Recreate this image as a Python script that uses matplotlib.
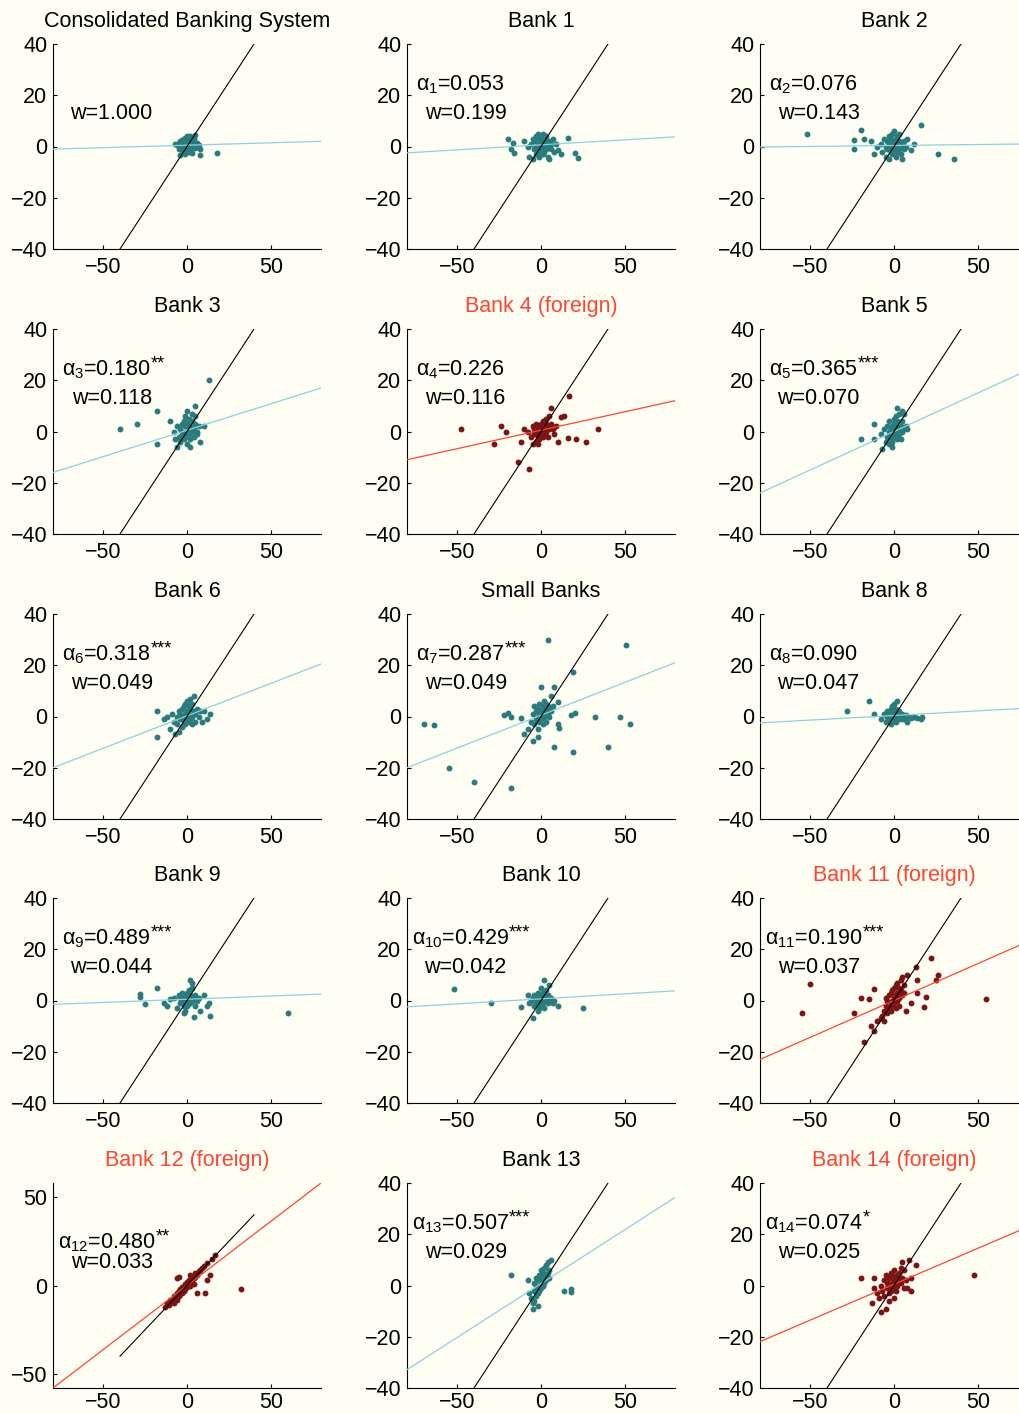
import matplotlib
matplotlib.use('Agg')
import matplotlib.pyplot as plt
import numpy as np

plt.rcParams['font.family'] = ['Liberation Sans', 'DejaVu Sans']
plt.rcParams['mathtext.fontset'] = 'custom'
plt.rcParams['mathtext.rm'] = 'Liberation Sans'
plt.rcParams['mathtext.it'] = 'Liberation Sans'
plt.rcParams['axes.unicode_minus'] = True

# panel titles / estimates
titles = ['Consolidated Banking System', 'Bank 1', 'Bank 2',
          'Bank 3', 'Bank 4 (foreign)', 'Bank 5',
          'Bank 6', 'Small Banks', 'Bank 8',
          'Bank 9', 'Bank 10', 'Bank 11 (foreign)',
          'Bank 12 (foreign)', 'Bank 13', 'Bank 14 (foreign)']
alpha_idx = [None, 1, 2, 3, 4, 5, 6, 7, 8, 9, 10, 11, 12, 13, 14]
alpha_vals = [None, '0.053', '0.076', '0.180', '0.226', '0.365', '0.318', '0.287',
              '0.090', '0.489', '0.429', '0.190', '0.480', '0.507', '0.074']
stars = ['', '', '', '**', '', '***', '***', '***', '', '***', '***', '***', '**', '***', '*']
weights = ['1.000', '0.199', '0.143', '0.118', '0.116', '0.070', '0.049', '0.049',
           '0.047', '0.044', '0.042', '0.037', '0.033', '0.029', '0.025']
foreign = [False, False, False, False, True, False, False, False,
           False, False, False, True, True, False, True]

# fitted line (slope, intercept)
fit_slope = [0.019, 0.039, 0.0075, 0.206, 0.144, 0.30, 0.253, 0.256,
             0.036, 0.025, 0.039, 0.2875, 0.725, 0.42, 0.28]
fit_icpt = [0.5, 0.65, 0.4, 0.5, 0.5, 0.0, 0.25, 0.5,
            0.4, 0.5, 0.65, 0.0, 0.0, 0.75, 0.5]

# scatter points (x, y) per panel
pts_cons = [(-7, 1), (-6, 0.5), (-5, 1.5), (-5, -1), (-4, 0), (-4, 2), (-3, -1.5), (-3, 1), (-3, 2.5), (-2, -2),
            (-2, 0), (-2, 3), (-1, -3), (-1, 1), (-1, 3.5), (0, -1), (0, 0.5), (0, 2), (0, 4), (1, -2),
            (1, 0), (1, 3), (2, 1), (2, -1), (2, 4), (3, 0), (3, 2), (3, -2.5), (4, 1), (4, 3),
            (5, -0.5), (5, 4.5), (6, 1.5), (7, 0.5), (8, -1), (8, -3.5), (-4, -3.5), (18, -2.5), (2, -0.5), (-1, -2.5)]
pts_b1 = [(-20, 3), (-18, -1), (-16, -2.5), (-17, 1.5), (-10, 2), (-8, 0), (-7, -4), (-6, 1), (-5, -5), (-5, 3),
          (-4, -1), (-4, 2), (-3, -3), (-3, 0), (-3, 4), (-2, -2), (-2, 1), (-2, 5), (-1, -4), (-1, 0),
          (-1, 3), (0, -1), (0, 1), (0, 2), (0, 4), (1, -3), (1, 0), (1, 5), (2, -2), (2, 2),
          (2, 3), (3, -1), (3, 1), (3, 4), (4, 0), (4, -4), (5, 2), (5, -5), (6, -1), (6, 1),
          (7, 3), (8, -2), (10, -1.5), (12, -3), (16, 3.5), (20, -2.5), (22, -4.5), (9, 1)]
pts_b2 = [(-52, 5), (-24, 2.5), (-24, -1), (-20, 6.5), (-18, 3), (-14, 2), (-12, -3), (-10, 0), (-8, 1), (-7, -2),
          (-6, 3), (-5, -4), (-5, 0), (-4, 2), (-4, -1), (-3, -5), (-3, 1), (-3, 4), (-2, -2), (-2, 0),
          (-2, 3), (-1, -3), (-1, 1), (-1, 5), (0, -1), (0, 0), (0, 2), (0, 6), (1, -4), (1, 1),
          (1, 3), (2, -2), (2, 0), (2, 4), (3, -1), (3, 2), (3, 5), (4, 0), (4, -3), (5, 1),
          (5, -5), (6, 2), (6, -1), (7, 0), (8, 3), (10, -1.5), (16, 8.5), (26, -3), (36, -5), (12, 1)]
pts_b3 = [(-40, 1), (-30, 3), (-18, 8), (-18, -5), (-10, 4), (-8, 0), (-6, -6), (-6, 2), (-5, -2), (-4, 1),
          (-4, -4), (-3, 3), (-3, -1), (-2, 0), (-2, -3), (-2, 4), (-1, 2), (-1, -2), (-1, 6), (0, 0),
          (0, -5), (0, 3), (1, 1), (1, -1), (1, 5), (2, -6), (2, 2), (2, -3), (3, 0), (3, 4),
          (3, 7), (4, 1), (4, -2), (5, 6), (5, 3), (6, 0), (6, -1), (7, 2), (8, -4), (10, 2),
          (5, 10), (13, 20), (-7, -3), (0, 8)]
pts_b4 = [(-48, 1), (-28, -5), (-24, 2), (-21, 0), (-14, -12), (-12, -4), (-10, 1), (-8, 0), (-7, -14.5), (-6, -2),
          (-5, 2), (-5, -5), (-4, -1), (-4, 1), (-3, -4), (-3, 0), (-3, 3), (-2, -2), (-2, 1), (-2, -5),
          (-1, 0), (-1, 2), (-1, -3), (0, -1), (0, 1), (0, 3), (1, 0), (1, -2), (1, 4), (2, 1),
          (2, 2), (2, -1), (3, 3), (3, 0), (3, 5), (4, 2), (4, -2), (5, 6), (5, 1), (6, 3),
          (6, 9), (7, 1), (8, -1), (9, 2), (10, -4), (12, 5.5), (14, 6), (16, -2.5), (17, 14), (21, -3),
          (27, -4), (34, 1)]
pts_b5 = [(-20, -3), (-12, -3), (-12, 3), (-8, -1), (-7, -7), (-6, 1), (-5, -4), (-4, -2), (-4, 2), (-3, 0),
          (-3, -5), (-3, 4), (-2, -1), (-2, 1), (-2, -3), (-1, 2), (-1, 0), (-1, -4), (0, 1), (0, -2),
          (0, 5), (0, 3), (1, -1), (1, 2), (1, 6), (2, 0), (2, -3), (2, 4), (3, 1), (3, 7),
          (3, -1), (4, 2), (4, -3), (5, 0), (5, 4), (6, 7), (6, 1), (7, 2), (8, 1), (5, 8),
          (-1, -6), (2, 9)]
pts_b6 = [(-18, 2), (-18, -8), (-14, -1), (-12, 0), (-10, -5), (-9, 1), (-8, -2), (-7, -7), (-6, 0), (-6, -3),
          (-5, -6), (-5, 2), (-4, -1), (-4, 1), (-3, -4), (-3, 3), (-2, 0), (-2, -2), (-2, 4), (-1, 1),
          (-1, -3), (-1, 5), (0, 0), (0, 2), (0, -1), (0, 6), (1, 1), (1, -2), (1, 4), (2, 3),
          (2, -1), (2, 7), (3, 0), (3, 5), (3, -3), (4, 2), (4, 8), (5, 1), (5, -2), (6, 3),
          (7, 0), (8, 2), (10, 2), (12, -1), (14, 1), (9, -2)]
pts_small = [(-70, -3), (-64, -3.5), (-55, -20), (-40, -25.5), (-22, 0.5), (-20, 1.5), (-18, 0), (-18, -28), (-12, -0.5), (-10, -7),
             (-8, -5), (-6, -2), (-5, -9.5), (-5, 1), (-4, 4), (-4, -3), (-3, -1), (-3, 2), (-2, -8), (-2, -5),
             (-2, 0), (-2, 3), (-1, -2), (-1, 1), (-1, 5), (0, -1), (0, 0), (0, 2), (0, 11.5), (1, -3),
             (1, 1), (1, 4), (2, 0), (2, 3), (2, 6), (3, -2), (3, 2), (3, 5), (4, 30), (4, 1),
             (4, 4), (5, 0), (5, 3), (6, 2), (6, 8), (7, 4), (8, 11.5), (8, -12), (10, 5.5), (10, -3),
             (11, -4.5), (18, 0.5), (19, 17.5), (19, -14), (20, 1.5), (32, 0), (40, -12), (47, 0), (51, 28), (53, -3)]
pts_b8 = [(-28, 2), (-15, 6), (-12, 1), (-8, -1), (-6, 1), (-5, -2), (-4, 0), (-4, 2), (-3, -1), (-3, 1),
          (-2, -3), (-2, 0), (-2, 3), (-1, -2), (-1, 1), (-1, 4), (0, 0), (0, -1), (0, 2), (0, 5),
          (1, -2), (1, 1), (1, 3), (2, 0), (2, -1), (2, 6), (3, 1), (3, 2), (4, -1), (4, 0),
          (5, 1), (6, -1), (7, 0.5), (8, -2), (9, 0), (10, -0.5), (12, 0), (14, -0.5), (16, -1), (17, 0)]
pts_b9 = [(-28, 2.5), (-28, 1.5), (-25, -1.5), (-18, 5), (-14, -1), (-12, -2), (-10, 0.5), (-8, 1), (-6, -3), (-5, 2),
          (-4, -1), (-4, 1), (-3, 0), (-3, 3), (-2, -2), (-2, 1), (-1, -1), (-1, 2), (-1, -4), (0, 0),
          (0, 3), (0, -2), (1, 1), (1, -1), (1, 4), (2, 2), (2, -1), (2, 8), (3, 0), (3, 5),
          (4, 1), (4, -6.5), (5, 2), (5, -2), (6, 0), (7, 1), (8, -4), (10, 2), (12, -2), (13, -1),
          (14, -6), (60, -5), (-2, -5), (3, 7)]
pts_b10 = [(-52, 4.5), (-30, -1), (-12, -2.5), (-8, 2), (-7, -1), (-6, 0), (-5, -7), (-5, 1), (-4, -2), (-4, 2),
           (-3, -1), (-3, 1), (-2, 0), (-2, -4), (-2, 3), (-1, -1), (-1, 1), (-1, -3), (0, 0), (0, 2),
           (0, -2), (0, 5), (1, 1), (1, -1), (1, 3), (2, 0), (2, 2), (2, -3), (2, 8), (3, 1),
           (3, 4), (4, -1), (4, 2), (5, 0), (5, 6), (6, 1), (7, -1), (8, 0), (10, -2), (25, -3)]
pts_b11 = [(-55, -5), (-50, 6.5), (-24, -5), (-20, 1), (-18, -16), (-15, 0.5), (-14, -10), (-12, -12), (-12, 4.5), (-10, -8),
           (-8, -7), (-7, -6), (-6, -4), (-6, -8), (-5, -2), (-5, 1), (-4, -5), (-4, 0), (-3, -3), (-3, 2),
           (-2, -1), (-2, -4), (-2, 3), (-1, 0), (-1, -2), (-1, 4), (0, 1), (0, -1), (0, 5), (1, 2),
           (1, -3), (1, 6), (2, 0), (2, 3), (2, 7), (3, 1), (3, 5), (3, -2), (4, 4), (4, 8),
           (5, 2), (5, 9), (6, 6), (6, 3), (7, -4), (8, 10), (10, -1), (13, 13), (14, 8), (14, 3),
           (18, -2.5), (19, 1.5), (22, 16.5), (25, 8), (26, 10), (55, 0.5)]
pts_b12 = [(-13, -12), (-12, -10), (-11, -11), (-10, -8), (-9, -9), (-8, -6), (-8, -10), (-7, -7), (-6, -4), (-6, -8),
           (-5, -3), (-5, 5), (-5, -6), (-4, -2), (-4, -5), (-3, -1), (-3, -4), (-2, 0), (-2, -3), (-1, 1),
           (-1, -2), (0, 0), (0, 2), (0, -1), (1, 1), (1, 3), (2, 2), (2, 0), (3, 3), (3, 5),
           (4, 4), (4, 1), (5, 5), (5, 7), (6, 6), (6, -4), (7, 8), (8, 9), (9, 10), (10, 11),
           (11, -4), (12, 3), (12, 13), (14, 6), (15, 15), (17, 17), (32, -2), (2, 6), (-6, 4)]
pts_b13 = [(-18, 4), (-8, 2), (-7, -3), (-6, -5), (-5, -9), (-5, -7), (-4, -6), (-4, -2), (-4, 1), (-3, -4),
           (-3, 0), (-3, 3), (-2, -3), (-2, -1), (-2, 2), (-1, -2), (-1, 0), (-1, 4), (0, 1), (0, -1),
           (0, 3), (0, 6), (1, 0), (1, 2), (1, 5), (2, 1), (2, 3), (2, 7), (3, 4), (3, 2),
           (3, 8), (4, 5), (4, 9), (5, 6), (5, 3), (6, 10), (-2, -8), (14, -2), (18, -2.5), (18, -1.5)]
pts_b14 = [(-20, 3), (-13, -7), (-12, 3), (-12, -1), (-10, -3), (-9, -5), (-8, -10.5), (-8, 0), (-7, -2), (-6, 2),
           (-6, -4), (-5, -9), (-5, 4), (-4, -1), (-4, 1), (-3, -6), (-3, -3), (-3, 3), (-2, 0), (-2, 5),
           (-2, -2), (-1, 1), (-1, -1), (-1, 4), (0, 0), (0, 2), (0, -5), (0, 6), (1, 1), (1, 3),
           (1, -2), (2, 4), (2, 0), (3, 2), (3, 5), (4, 1), (4, 7), (5, 3), (6, -1), (6, 6),
           (7, 2), (8, -1), (9, 10), (10, -2), (10, 3), (13, 8), (48, 4), (5, 9)]

points = [pts_cons, pts_b1, pts_b2, pts_b3, pts_b4, pts_b5, pts_b6, pts_small,
          pts_b8, pts_b9, pts_b10, pts_b11, pts_b12, pts_b13, pts_b14]

bg = '#FFFEF3'
teal = '#2A7B7C'
darkred = '#7D1414'
blue_fit = '#8AD2DD'
red_fit = '#FF4433'
fs = 15.5

W, H = 1019, 1414
fig = plt.figure(figsize=(W / 100, H / 100), dpi=100, facecolor=bg)

left_px = [53, 407, 760]
top_px = [44, 329, 614, 898, 1183]
aw, ah = 268, 205

for i in range(15):
    r, c = divmod(i, 3)
    ax = fig.add_axes([left_px[c] / W, 1 - (top_px[r] + ah) / H, aw / W, ah / H])
    ax.set_facecolor(bg)
    xs = [p[0] for p in points[i]]
    ys = [p[1] for p in points[i]]
    ax.scatter(xs, ys, s=18, color=darkred if foreign[i] else teal, linewidths=0, zorder=2)

    xl = np.array([-80, 80])
    ax.plot(xl, fit_slope[i] * xl + fit_icpt[i], color=red_fit if foreign[i] else blue_fit,
            lw=0.9, zorder=3)
    ax.plot([-40, 40], [-40, 40], color='black', lw=0.8, zorder=3)

    ax.set_xlim(-80, 80)
    if i == 12:
        ax.set_ylim(-58, 58)
        ax.set_yticks([-50, 0, 50])
    else:
        ax.set_ylim(-40, 40)
        ax.set_yticks([-40, -20, 0, 20, 40])
    ax.set_xticks([-50, 0, 50])
    for s in ['top', 'right']:
        ax.spines[s].set_visible(False)
    for s in ['left', 'bottom']:
        ax.spines[s].set_linewidth(0.8)
    ax.tick_params(direction='in', length=3, width=0.8, labelsize=fs)
    # bottom row sits against the lower edge, pull its labels up a bit
    ax.tick_params(axis='x', pad=3 if r == 4 else 6)
    ax.tick_params(axis='y', pad=4)

    ax.set_title(titles[i], fontsize=fs, pad=12, color=red_fit if foreign[i] else 'black')

    if alpha_idx[i] is not None:
        lab = r'$\alpha_{%d}$=%s' % (alpha_idx[i], alpha_vals[i])
        t = ax.text(-48, 24, lab, fontsize=fs, ha='center', va='center')
        if stars[i]:
            ax.annotate(stars[i], xy=(1, 0.38), xycoords=t, fontsize=13,
                        ha='left', va='bottom')
    ax.text(-45, 13, 'w=' + weights[i], fontsize=fs, ha='center', va='center')

fig.savefig('out.png', dpi=100, facecolor=bg)
